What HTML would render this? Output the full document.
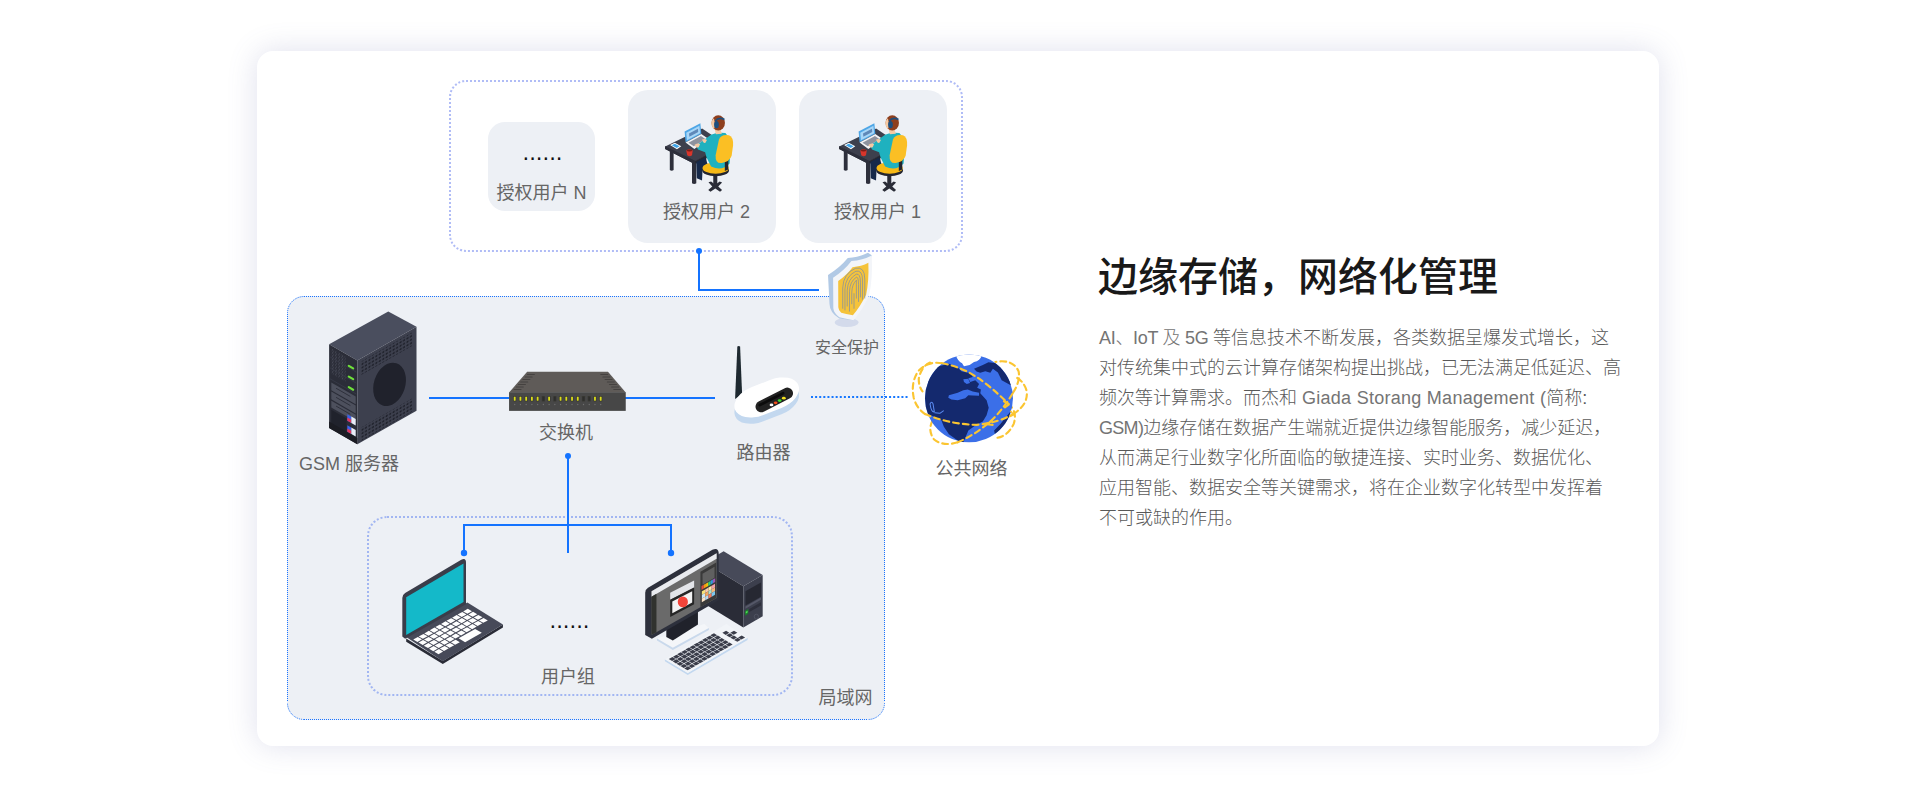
<!DOCTYPE html>
<html lang="zh-CN">
<head>
<meta charset="utf-8">
<title>边缘存储，网络化管理</title>
<style>
*{box-sizing:border-box;margin:0;padding:0}
html,body{width:1920px;height:796px;overflow:hidden;background:#fff}
body{font-family:"Liberation Sans","Noto Sans CJK SC",sans-serif;color:#666;position:relative}
.card{position:absolute;left:257px;top:51px;width:1402px;height:695px;background:#fff;border-radius:16px;box-shadow:0 0 30px rgba(95,100,165,.2)}
.abs{position:absolute}
.lbl{position:absolute;font-size:18px;line-height:20px;color:#666;white-space:nowrap;text-align:center;transform:translateX(-50%)}
.dots{color:#111;font-size:23px;letter-spacing:-.99px}
.ubox{position:absolute;background:#edf0f5;border-radius:20px}
.title{position:absolute;left:1098px;top:250px;font-size:40px;line-height:54px;color:#191919;font-weight:500;white-space:nowrap}
.body{position:absolute;left:1099px;top:323px;width:530px;font-size:18px;line-height:30px;color:#595959;font-weight:300}
.body span{display:block;white-space:nowrap}
.body i{font-style:normal;color:#747474}
svg{position:absolute;overflow:visible}
</style>
</head>
<body>
<div class="card"></div>

<div class="abs" style="left:287px;top:296px;width:598px;height:424px;background:#edf0f5;border-radius:17px"></div>
<div class="abs" style="left:449px;top:80px;width:514px;height:172px;border:2px dotted #b0bcf6;border-radius:17px"></div>
<div class="abs" style="left:367px;top:516px;width:425.5px;height:179.5px;border:2px dotted #a2b6f2;border-radius:20px"></div>
<!-- connector lines -->
<svg class="abs" style="left:0;top:0" width="1920" height="796" viewBox="0 0 1920 796">
  <g fill="none" stroke="#1a73ff" stroke-width="1" stroke-dasharray="1 1">
    <g shape-rendering="crispEdges"><path d="M304 296.5H868"/><path d="M304 719.5H868"/><path d="M287.5 314V702"/><path d="M884.5 314V702"/></g>
    <path d="M287.5 313A16.5 16.5 0 0 1 304 296.5"/><path d="M868 296.5A16.5 16.5 0 0 1 884.5 313"/>
    <path d="M884.5 703A16.5 16.5 0 0 1 868 719.5"/><path d="M304 719.5A16.5 16.5 0 0 1 287.5 703"/>
  </g>
  <!-- connectors -->
  <g fill="none" stroke="#1473ff" stroke-width="2">
    <path d="M699 251V290H819"/>
    <path d="M429 398H509"/>
    <path d="M625 398H715"/>
    <path d="M568 456V553"/>
    <path d="M464 553V525H671V553"/>
  </g>
  <path d="M811 397H908" stroke="#1677ff" stroke-width="2" stroke-dasharray="2 2.11" fill="none"/>
  <g fill="#1473ff">
    <circle cx="699" cy="251" r="3"/>
    <circle cx="568" cy="456" r="3"/>
    <circle cx="464" cy="553" r="3.2"/>
    <circle cx="671" cy="553" r="3.2"/>
  </g>
</svg>

<div class="ubox" style="left:488px;top:122px;width:107px;height:89px;border-radius:17px"></div>
<div class="ubox" style="left:628px;top:90px;width:148px;height:153px"></div>
<div class="ubox" style="left:799px;top:90px;width:148px;height:153px"></div>

<div class="lbl dots" style="left:542px;top:147px">······</div>
<div class="lbl" style="left:541.5px;top:183px">授权用户 N</div>
<div class="lbl" style="left:706.5px;top:202px">授权用户 2</div>
<div class="lbl" style="left:877.5px;top:202px">授权用户 1</div>
<div class="lbl" style="left:847px;top:338px;font-size:16px">安全保护</div>
<div class="lbl" style="left:349px;top:454px">GSM 服务器</div>
<div class="lbl" style="left:566px;top:423px">交换机</div>
<div class="lbl" style="left:763.5px;top:443px">路由器</div>
<div class="lbl" style="left:971.5px;top:459px">公共网络</div>
<div class="lbl dots" style="left:569px;top:615px">······</div>
<div class="lbl" style="left:568px;top:667px">用户组</div>
<div class="lbl" style="left:845.5px;top:688px">局域网</div>

<div class="title">边缘存储，网络化管理</div>
<div class="body">
<span><i style="letter-spacing:-.3px">AI、IoT 及 5G </i>等信息技术不断发展，各类数据呈爆发式增长，这</span>
<span>对传统集中式的云计算存储架构提出挑战，已无法满足低延迟、高</span>
<span>频次等计算需求。而杰和 <i style="letter-spacing:.27px">Giada Storang Management (</i>简称:</span>
<span><i style="letter-spacing:-.7px">GSM)</i>边缘存储在数据产生端就近提供边缘智能服务，减少延迟，</span>
<span>从而满足行业数字化所面临的敏捷连接、实时业务、数据优化、</span>
<span>应用智能、数据安全等关键需求，将在企业数字化转型中发挥着</span>
<span>不可或缺的作用。</span>
</div>

<!--PERSON-->
<svg width="0" height="0" style="position:absolute">
 <defs>
  <symbol id="person" viewBox="0 0 754 796">
   <path d="M400 430h30v60h-30z" fill="#23252f"/>
   <!-- desk top -->
   <path d="M85 347L395 197L600 335L335 476Z" fill="#3d404d"/>
   <path d="M85 345L336 470L470 400L470 424L336 496L85 368Z" fill="#262832"/>
   <path d="M85 345L336 470L336 496L85 368Z" fill="#2d2f3b"/>
   <!-- desk legs -->
   <path d="M124 380h32v165q-16 12-32 0z" fill="#2d2f3b"/>
   <path d="M310 485h36v170q-18 12-36 0z" fill="#2d2f3b"/>
   <!-- person legs -->
   <path d="M346 478L420 440L450 520L398 548L394 632L350 614Z" fill="#16294a"/>
   <!-- chair base -->
   <path d="M488 560h34v110h-34z" fill="#2a2c37"/>
   <path d="M448 648L470 640L505 668L542 640L562 650L530 682L562 712L545 726L505 700L465 726L446 712L480 682Z" fill="#2a2c37"/>
   <!-- seat -->
   <ellipse cx="508" cy="548" rx="112" ry="50" fill="#23252f"/>
   <ellipse cx="508" cy="528" rx="110" ry="48" fill="#f7b916"/>
   <!-- laptop -->
   <path d="M248 222L380 152L388 240L256 312Z" fill="#4ea6e6"/>
   <path d="M262 232L372 174L378 236L268 296Z" fill="#a8d6f7"/>
   <path d="M285 238L360 200L362 226L288 266Z" fill="#5f88b8"/>
   <path d="M256 314L388 242L446 282L330 368Z" fill="#f1f3f6"/>
   <path d="M280 316L385 260L425 286L326 346Z" fill="#8d929e"/>
   <!-- phone -->
   <path d="M126 336L166 316L220 346L184 370Z" fill="#fff"/>
   <path d="M140 337L166 324L206 346L182 360Z" fill="#3fa4e8"/>
   <!-- cup -->
   <path d="M262 382q26 -22 54 0l-6 40q-20 16 -40 0z" fill="#d8352b"/>
   <ellipse cx="289" cy="381" rx="22" ry="9" fill="#7a1d17"/>
   <!-- torso & arm -->
   <path d="M470 250Q520 225 590 235L640 300L625 490Q560 560 470 515L432 440L420 395L360 372L345 340L400 300Z" fill="#1fb1bf"/>
   <path d="M330 335q20 -22 48 -8l-12 26q-22 10 -36 -18z" fill="#f4c9a3"/>
   <path d="M395 290q22 -14 40 4l-14 24q-20 4 -26 -28z" fill="#f4c9a3"/>
   <!-- chair back -->
   <path d="M585 470L614 455L614 540L585 552Z" fill="#23252f"/>
   <path d="M536 290Q556 240 620 254Q658 268 654 340L642 425Q625 475 560 486Q503 492 508 420Z" fill="#fbbf24"/>
   <!-- head -->
   <path d="M497 190L540 175L560 240L510 245Z" fill="#f4c9a3"/>
   <ellipse cx="530" cy="150" rx="56" ry="64" fill="#8e3f1e"/>
   <path d="M472 150q4 -30 22 -40l10 60l-8 30q-20 -10 -24 -50z" fill="#f4c9a3"/>
   <path d="M505 135Q535 95 582 122" fill="none" stroke="#1d4e7e" stroke-width="14"/>
   <ellipse cx="515" cy="165" rx="20" ry="30" fill="#1d4e7e"/>
  </symbol>
 </defs>
</svg>
<svg style="left:655px;top:105px" width="90" height="95"><use href="#person"/></svg>
<svg style="left:829px;top:105px" width="90" height="95"><use href="#person"/></svg>
<!--/PERSON-->
<!--SERVER-->
<svg style="left:320px;top:305px" width="110" height="145" viewBox="0 0 604 796">
 <defs>
  <pattern id="sdots" width="19" height="19" patternUnits="userSpaceOnUse" patternTransform="translate(225 300) skewY(-29.6)">
   <rect x="3" y="3" width="11" height="11" rx="3" fill="#20222c"/>
  </pattern>
  <pattern id="svent" width="14" height="10" patternUnits="userSpaceOnUse" patternTransform="translate(50 215) skewY(30)">
   <rect x="0" y="0" width="8" height="10" fill="#15161c"/>
  </pattern>
  <pattern id="smesh" width="8" height="8" patternUnits="userSpaceOnUse" patternTransform="translate(50 215) skewY(30)">
   <rect x="0" y="0" width="4" height="4" fill="#4b4e5b"/>
  </pattern>
 </defs>
 <path d="M50 215L375 35L530 120L205 305Z" fill="#4a4e5e"/>
 <path d="M50 215L205 305L205 765L50 675Z" fill="#2b2d38"/>
 <path d="M205 305L530 120L530 580L205 765Z" fill="#3d404e"/>
 <!-- dot bands on right face -->
 <path d="M226 310L510 148L510 222L226 384Z" fill="url(#sdots)"/>
 <path d="M226 672L510 510L510 584L226 746Z" fill="url(#sdots)"/>
 <ellipse cx="382" cy="436" rx="86" ry="122" transform="rotate(18 382 436)" fill="#20222c"/>
 <!-- left face details -->
 <path d="M60 238L140 284L140 420L60 374Z" fill="url(#smesh)"/>
 <g stroke="#3a3d4a" stroke-width="4" fill="none">
  <path d="M55 285L200 369"/><path d="M55 345L200 429"/><path d="M55 405L200 489"/>
 </g>
 <g fill="#4d505d">
  <path d="M62 425L196 502L196 545L62 468Z"/>
  <path d="M62 475L196 552L196 595L62 518Z"/>
  <path d="M62 525L196 602L196 640L62 563Z"/>
 </g>
 <g stroke="#2b2d38" stroke-width="5" fill="none" stroke-linecap="round">
  <path d="M90 458L165 501"/><path d="M90 508L165 551"/><path d="M90 556L165 599"/>
 </g>
 <g stroke="#6fe23a" stroke-width="12" stroke-linecap="round">
  <path d="M158 334L182 348"/><path d="M158 393L182 407"/><path d="M158 451L182 465"/>
 </g>
 <path d="M62 575L146 623L146 700L62 652Z" fill="#20222c"/>
 <path d="M150 600L172 612L172 648L150 636Z" fill="#3b62e8"/>
 <path d="M150 618L172 630L172 648L150 636Z" fill="#e2355a"/>
 <path d="M172 612L196 626L196 662L172 648Z" fill="#e8edf7"/>
 <path d="M150 660L172 672L172 708L150 696Z" fill="#3b62e8"/>
 <path d="M150 678L172 690L172 708L150 696Z" fill="#e2355a"/>
 <path d="M172 672L196 686L196 722L172 708Z" fill="#e8edf7"/>
 <path d="M50 640L205 730L205 765L50 675Z" fill="#1b1c23"/>
 <path d="M50 642L205 732L205 765L50 675Z" fill="url(#svent)" opacity=".0"/>
</svg>
<!--/SERVER-->
<!--SWITCH-->
<svg style="left:500px;top:360px" width="140" height="90" viewBox="0 0 1238 796">
 <path d="M80 287L240 105H955L1112 287Z" fill="#5f5b58"/>
 <g stroke="#454240" stroke-width="9" stroke-linecap="round"><path d="M242 128h62" /><path d="M891 128h62" /><path d="M222 150h62" /><path d="M910 150h62" /><path d="M202 172h62" /><path d="M929 172h62" /><path d="M183 194h62" /><path d="M949 194h62" /><path d="M163 216h62" /><path d="M968 216h62" /><path d="M144 238h62" /><path d="M987 238h62" /><path d="M124 260h62" /><path d="M1006 260h62" /></g>
 <rect x="80" y="285" width="1032" height="165" fill="#474747"/>
 <rect x="116.0" y="318" width="28" height="48" rx="4" fill="#3a3a33"/><rect x="122.0" y="324" width="16" height="36" rx="3" fill="#d9dc1a"/><circle cx="130.0" cy="394" r="6" fill="#6e6e6e"/><rect x="166.7" y="318" width="28" height="48" rx="4" fill="#3a3a33"/><rect x="172.7" y="324" width="16" height="36" rx="3" fill="#d9dc1a"/><circle cx="180.7" cy="394" r="6" fill="#6e6e6e"/><rect x="217.4" y="318" width="28" height="48" rx="4" fill="#3a3a33"/><rect x="223.4" y="324" width="16" height="36" rx="3" fill="#d9dc1a"/><circle cx="231.4" cy="394" r="6" fill="#6e6e6e"/><rect x="268.1" y="318" width="28" height="48" rx="4" fill="#3a3a33"/><rect x="274.1" y="324" width="16" height="36" rx="3" fill="#d9dc1a"/><circle cx="282.1" cy="394" r="6" fill="#6e6e6e"/><rect x="318.8" y="318" width="28" height="48" rx="4" fill="#3a3a33"/><rect x="324.8" y="324" width="16" height="36" rx="3" fill="#d9dc1a"/><circle cx="332.8" cy="394" r="6" fill="#6e6e6e"/><rect x="369.5" y="318" width="28" height="48" rx="4" fill="#3a3a33"/><rect x="375.5" y="324" width="16" height="36" rx="3" fill="#2e2e2e"/><circle cx="383.5" cy="394" r="6" fill="#6e6e6e"/><rect x="420.2" y="318" width="28" height="48" rx="4" fill="#3a3a33"/><rect x="426.2" y="324" width="16" height="36" rx="3" fill="#d9dc1a"/><circle cx="434.2" cy="394" r="6" fill="#6e6e6e"/><rect x="470.9" y="318" width="28" height="48" rx="4" fill="#3a3a33"/><rect x="476.9" y="324" width="16" height="36" rx="3" fill="#2e2e2e"/><circle cx="484.9" cy="394" r="6" fill="#6e6e6e"/><rect x="521.6" y="318" width="28" height="48" rx="4" fill="#3a3a33"/><rect x="527.6" y="324" width="16" height="36" rx="3" fill="#d9dc1a"/><circle cx="535.6" cy="394" r="6" fill="#6e6e6e"/><rect x="572.3" y="318" width="28" height="48" rx="4" fill="#3a3a33"/><rect x="578.3" y="324" width="16" height="36" rx="3" fill="#d9dc1a"/><circle cx="586.3" cy="394" r="6" fill="#6e6e6e"/><rect x="623.0" y="318" width="28" height="48" rx="4" fill="#3a3a33"/><rect x="629.0" y="324" width="16" height="36" rx="3" fill="#d9dc1a"/><circle cx="637.0" cy="394" r="6" fill="#6e6e6e"/><rect x="673.7" y="318" width="28" height="48" rx="4" fill="#3a3a33"/><rect x="679.7" y="324" width="16" height="36" rx="3" fill="#d9dc1a"/><circle cx="687.7" cy="394" r="6" fill="#6e6e6e"/><rect x="724.4" y="318" width="28" height="48" rx="4" fill="#3a3a33"/><rect x="730.4" y="324" width="16" height="36" rx="3" fill="#2e2e2e"/><circle cx="738.4" cy="394" r="6" fill="#6e6e6e"/><rect x="775.1" y="318" width="28" height="48" rx="4" fill="#3a3a33"/><rect x="781.1" y="324" width="16" height="36" rx="3" fill="#2e2e2e"/><circle cx="789.1" cy="394" r="6" fill="#6e6e6e"/><rect x="825.8" y="318" width="28" height="48" rx="4" fill="#3a3a33"/><rect x="831.8" y="324" width="16" height="36" rx="3" fill="#d9dc1a"/><circle cx="839.8" cy="394" r="6" fill="#6e6e6e"/><rect x="876.5" y="318" width="28" height="48" rx="4" fill="#3a3a33"/><rect x="882.5" y="324" width="16" height="36" rx="3" fill="#d9dc1a"/><circle cx="890.5" cy="394" r="6" fill="#6e6e6e"/>
</svg>
<!--/SWITCH-->
<!--ROUTER-->
<svg style="left:720px;top:335px" width="100" height="100" viewBox="0 0 796 796">
 <path d="M138 92q10 -8 22 0L176 470L120 510Z" fill="#1e2930"/>
 <g transform="rotate(-21 370 548)"><rect x="102" y="428" width="540" height="240" rx="190" ry="120" fill="#c3d8ef"/></g>
 <g transform="rotate(-21 370 498)"><rect x="102" y="378" width="540" height="240" rx="190" ry="120" fill="#fff"/></g>
 <g transform="rotate(-27 432 517)"><rect x="270" y="472" width="324" height="90" rx="45" fill="#222"/>
 <rect x="300" y="490" width="230" height="22" rx="11" fill="#0c0c0c"/></g>
 <ellipse cx="410" cy="557" rx="15" ry="11" fill="#fff"/>
 <ellipse cx="443" cy="540" rx="15" ry="11" fill="#f4511e"/>
 <ellipse cx="475" cy="522" rx="15" ry="11" fill="#3ddc2e"/>
 <ellipse cx="508" cy="503" rx="15" ry="11" fill="#f5e21d"/>
</svg>
<!--/ROUTER-->
<!--SHIELD-->
<svg style="left:815px;top:245px" width="70" height="90" viewBox="0 0 619 796">
 <ellipse cx="280" cy="685" rx="105" ry="40" fill="#d3daeb"/>
 <path d="M115 265Q220 200 290 115Q390 110 468 68L502 90L340 665L215 650Q130 600 128 520Z" fill="#b1c9e5"/>
 <path d="M160 290Q260 225 322 142Q420 135 502 92Q512 300 478 445Q420 580 340 665Q250 650 215 640Q165 600 162 560Z" fill="#f3f5f9"/>
 <path d="M205 318Q285 262 332 196Q410 190 472 158Q478 320 452 440Q400 545 335 622Q270 612 232 600Q207 575 206 550Z" fill="#f5c33a"/>
 <g fill="none" stroke="#5b7fc4" stroke-width="5" stroke-linecap="round">
  <path d="M245 560V380Q250 250 360 205Q440 190 440 300V470"/>
  <path d="M265 575V390Q270 275 362 232Q420 220 420 310V480"/>
  <path d="M285 540V400Q290 300 365 258Q402 250 402 330V460"/>
  <path d="M305 585V410Q308 322 366 285Q385 282 385 350V500"/>
  <path d="M325 520V420Q328 345 366 312V470"/>
  <path d="M345 560V430"/>
 </g>
</svg>
<!--/SHIELD-->
<!--GLOBE-->
<svg style="left:920px;top:350px" width="100" height="100" viewBox="0 0 796 796">
 <defs><clipPath id="gclip"><circle cx="390" cy="385" r="350"/></clipPath></defs>
 <g fill="none" stroke="#fbc531" stroke-width="17" stroke-dasharray="46 32" stroke-linecap="round">
  <path d="M175 105Q60 85 -15 170Q-75 260 -50 380Q-30 460 40 510"/>
  <path d="M80 100Q10 130 -10 230Q-10 290 20 330"/>
  <path d="M700 425Q780 490 745 590Q690 700 590 700"/>
  <path d="M740 340Q800 250 785 170Q740 70 600 95"/>
  <path d="M300 735Q180 770 110 710Q60 640 100 560"/>
  <path d="M40 510Q-70 430 -95 330Q-100 250 -30 200" opacity="0"/>
  <path d="M740 510Q860 440 850 330Q830 250 760 215"/>
 </g>
 <circle cx="390" cy="385" r="350" fill="#3b6fe8"/>
 <g clip-path="url(#gclip)">
  <path fill="#14296e" d="M150 130L230 110L300 140L330 170L400 185L420 215L385 225L400 255L440 240L470 270L455 300L485 315L480 345L530 400L547 460L530 520L500 570L440 600L385 640L360 700L340 745L300 720L230 670L190 610L170 560L110 530L60 510L0 500L0 130Z"/>
  <path fill="#3b6fe8" d="M230 360L300 340L345 320L380 315L420 330L470 340L470 365L420 362L385 360L360 385L300 400L250 395L225 380Z"/>
  <path fill="#3b6fe8" d="M345 232L385 228L398 262L372 270L350 255Z"/>
  <path fill="#14296e" d="M430 150L500 120L545 98L640 110L740 220L740 290L690 262L650 240L620 180L580 150L560 182L520 170L480 182L450 172Z"/>
  <path fill="#14296e" d="M590 640L640 590L680 540L722 488L790 520L700 700L600 690Z"/>
  <path fill="#fff" d="M285 40Q390 10 490 45Q480 85 430 95L395 120L350 130L335 105Q300 90 285 40Z"/>
 </g>
 <g fill="none" stroke="#5c8cf2" stroke-width="8" stroke-linecap="round" stroke-linejoin="round"><path d="M80 430q12 -28 24 0l10 62q-24 6 -34 -62zM118 500l40 4l28 -20"/></g>
 <g fill="none" stroke="#fbc531" stroke-width="17" stroke-dasharray="46 32" stroke-linecap="round">
  <path d="M175 105Q330 135 450 215T700 425"/>
  <path d="M40 510Q230 590 450 596Q620 580 740 510"/>
  <path d="M300 735Q470 660 600 530Q690 430 740 340"/>
 </g>
 <path d="M668 408L708 432L676 456" fill="none" stroke="#fbc531" stroke-width="17" stroke-linecap="round" stroke-linejoin="round"/>
 <path d="M572 562L535 590L578 596" fill="none" stroke="#fbc531" stroke-width="17" stroke-linecap="round" stroke-linejoin="round"/>
 <path d="M722 488L745 515L715 530" fill="none" stroke="#fbc531" stroke-width="13" stroke-linecap="round" stroke-linejoin="round"/>
</svg>
<!--/GLOBE-->
<!--LAPTOP-->
<svg style="left:390px;top:540px" width="130" height="140" viewBox="0 0 739 796">
 <path d="M92 578L300 705L642 498L642 480L300 688L92 560Z" fill="#2a2c37"/>
 <path d="M92 552L440 356L642 480L300 690Z" fill="#474a59"/>
 <g fill="#fff"><path d="M132 566L158 551L182 565L156 580Z"/><path d="M163 548L190 534L214 547L187 562Z"/><path d="M195 531L221 516L245 530L219 544Z"/><path d="M226 513L253 498L277 512L250 527Z"/><path d="M258 495L284 480L308 494L282 509Z"/><path d="M290 477L316 462L340 476L314 491Z"/><path d="M321 459L348 445L372 458L345 473Z"/><path d="M353 442L379 427L403 441L377 455Z"/><path d="M384 424L411 409L435 423L408 438Z"/><path d="M416 406L442 391L466 405L440 420Z"/><path d="M162 583L188 569L212 582L186 597Z"/><path d="M193 566L220 551L244 565L217 579Z"/><path d="M225 548L251 533L275 547L249 562Z"/><path d="M256 530L283 515L307 529L280 544Z"/><path d="M288 512L314 497L338 511L312 526Z"/><path d="M320 494L346 480L370 493L344 508Z"/><path d="M351 477L378 462L402 476L375 490Z"/><path d="M383 459L409 444L433 458L407 473Z"/><path d="M414 441L441 426L465 440L438 455Z"/><path d="M446 423L472 408L496 422L470 437Z"/><path d="M192 601L218 586L242 600L216 614Z"/><path d="M223 583L250 568L274 582L247 597Z"/><path d="M255 565L281 550L305 564L279 579Z"/><path d="M286 547L313 532L337 546L310 561Z"/><path d="M318 529L344 515L368 528L342 543Z"/><path d="M350 512L376 497L400 511L374 525Z"/><path d="M381 494L408 479L432 493L405 508Z"/><path d="M413 476L439 461L463 475L437 490Z"/><path d="M444 458L471 443L495 457L468 472Z"/><path d="M476 440L502 426L526 439L500 454Z"/><path d="M222 618L248 603L272 617L246 632Z"/><path d="M253 600L280 585L304 599L277 614Z"/><path d="M285 582L311 567L335 581L309 596Z"/><path d="M316 564L343 550L367 563L340 578Z"/><path d="M348 547L374 532L398 546L372 560Z"/><path d="M380 529L406 514L430 528L404 543Z"/><path d="M411 511L438 496L462 510L435 525Z"/><path d="M443 493L469 478L493 492L467 507Z"/><path d="M474 475L501 461L525 474L498 489Z"/><path d="M506 458L532 443L556 457L530 471Z"/><path d="M252 635L278 620L302 634L276 649Z"/><path d="M283 617L310 602L334 616L307 631Z"/><path d="M315 599L341 585L365 598L339 613Z"/><path d="M346 582L373 567L397 581L370 595Z"/><path d="M390 559L484 506L522 527L427 581Z"/></g>
 <path d="M70 330Q70 312 86 302L405 112Q432 98 432 128L432 366L86 562L70 548Z" fill="#3a3d4a"/>
 <path d="M92 326L418 134L418 352L92 540Z" fill="#14b9c9"/>
</svg>
<!--/LAPTOP-->
<!--DESKTOP-->
<svg style="left:635px;top:540px" width="140" height="140" viewBox="0 0 796 796">
 <!-- tower -->
 <path d="M504 64L726 199L616 263L395 128Z" fill="#474a59"/>
 <path d="M395 128L616 263L616 497L395 363Z" fill="#2a2c37"/>
 <path d="M616 263L726 199L726 433L616 497Z" fill="#3c3f4d"/>
 <path d="M628 292L716 241L716 322L628 373Z" fill="#262832"/>
 <path d="M628 378L716 327L716 340L628 391Z" fill="#555868"/>
 <path d="M650 392L716 354L716 372L650 410Z" fill="#2d2f3b"/>
 <path d="M626 402L644 392L644 420L626 430Z" fill="#1c7d2c"/>
 <path d="M630 408L640 402L640 412L630 418Z" fill="#52e05a"/>
 <ellipse cx="690" cy="436" rx="12" ry="14" fill="none" stroke="#555868" stroke-width="4"/>
 <!-- monitor base & stand -->
 <path d="M125 560L395 478L420 500L215 612Z" fill="#f4f6f9"/>
 <path d="M125 560L215 612L420 500L420 512L215 626L125 572Z" fill="#c9d9ec"/>
 <path d="M178 505L358 405L358 480L215 572L178 552Z" fill="#20222b"/>
 <!-- monitor -->
 <path d="M58 300Q58 282 74 272L440 55Q476 40 476 78L476 342L96 562L58 540Z" fill="#2d303c"/>
 <path d="M94 292L464 76L464 330L94 540Z" fill="#6a6a6a"/>
 <path d="M94 292L464 76L464 106L94 322Z" fill="#e9ebef"/>
 <path d="M94 322L122 306L122 524L94 540Z" fill="#30322e"/>
 <path d="M372 180L462 128L462 330L372 382Z" fill="#3a3a3a"/>
 <path d="M384 192L452 152L452 214L384 254Z" fill="#606060"/>
 <path d="M378 262L391 254L391 276L378 284Z" fill="#e84c3d"/><path d="M391 254L404 247L404 269L391 276Z" fill="#f39c12"/><path d="M404 247L417 240L417 262L404 269Z" fill="#f1c40f"/><path d="M417 240L430 232L430 254L417 262Z" fill="#2ecc71"/><path d="M430 232L443 224L443 246L430 254Z" fill="#3498db"/><path d="M443 224L456 217L456 239L443 246Z" fill="#9b59b6"/>
 <path d="M380 292L399 281L399 302L380 313Z" fill="#f7e27a"/><path d="M399 281L418 270L418 291L399 302Z" fill="#f9c9b0"/><path d="M418 270L436 260L436 280L418 291Z" fill="#ffe9a8"/><path d="M436 260L455 249L455 270L436 280Z" fill="#f2a0a8"/><path d="M380 313L399 302L399 323L380 333Z" fill="#cfe9f7"/><path d="M399 302L418 291L418 312L399 323Z" fill="#f6a55c"/><path d="M418 291L436 280L436 301L418 312Z" fill="#a8e0d0"/><path d="M436 280L455 270L455 290L436 301Z" fill="#f7b77a"/><path d="M380 333L399 323L399 343L380 354Z" fill="#fbe3c8"/><path d="M399 323L418 312L418 332L399 343Z" fill="#b8d8f0"/><path d="M418 312L436 301L436 322L418 332Z" fill="#f27a5e"/><path d="M436 301L455 290L455 311L436 322Z" fill="#7cc7ee"/>
 <path d="M200 300L336 230L336 270L200 340Z" fill="#e3e5e9"/>
 <path d="M200 340L336 270L336 366L200 438Z" fill="#262626"/>
 <path d="M212 350L325 291L325 355L212 416Z" fill="#f3f3f3"/>
 <ellipse cx="272" cy="352" rx="29" ry="31" fill="#f4453a"/>
 <!-- keyboard -->
 <path d="M170 690L300 768L640 568L640 556L300 756L170 678Z" fill="#c3d8ef"/>
 <path d="M170 678L520 478L640 556L300 756Z" fill="#f1f4f8"/>
 <g fill="#3a3d4a"><path d="M192 677L213 665L232 676L211 688Z"/><path d="M216 664L236 652L255 663L234 675Z"/><path d="M239 650L260 638L279 649L258 661Z"/><path d="M263 637L284 625L302 636L281 648Z"/><path d="M286 623L307 611L326 622L305 634Z"/><path d="M310 610L331 598L349 609L329 621Z"/><path d="M333 596L354 584L373 595L352 607Z"/><path d="M357 583L378 571L397 582L376 594Z"/><path d="M381 569L401 557L420 568L399 580Z"/><path d="M404 556L425 544L444 555L423 567Z"/><path d="M428 542L449 530L467 541L446 553Z"/><path d="M214 690L235 678L254 690L233 702Z"/><path d="M238 677L258 665L277 676L256 688Z"/><path d="M261 663L282 651L301 663L280 675Z"/><path d="M285 650L306 638L324 649L303 661Z"/><path d="M308 636L329 624L348 636L327 648Z"/><path d="M332 623L353 611L371 622L351 634Z"/><path d="M355 609L376 597L395 609L374 621Z"/><path d="M379 596L400 584L419 595L398 607Z"/><path d="M403 582L423 570L442 582L421 594Z"/><path d="M426 569L447 557L466 568L445 580Z"/><path d="M450 555L471 543L489 555L468 567Z"/><path d="M497 528L518 516L536 528L516 540Z"/><path d="M236 704L257 692L276 703L255 715Z"/><path d="M260 690L280 678L299 689L278 701Z"/><path d="M283 677L304 665L323 676L302 688Z"/><path d="M307 663L328 651L346 662L325 674Z"/><path d="M330 650L351 638L370 649L349 661Z"/><path d="M354 636L375 624L393 635L373 647Z"/><path d="M377 623L398 611L417 622L396 634Z"/><path d="M401 609L422 597L441 608L420 620Z"/><path d="M425 596L445 584L464 595L443 607Z"/><path d="M448 582L469 570L488 581L467 593Z"/><path d="M472 569L493 557L511 568L490 580Z"/><path d="M519 542L540 530L558 541L538 553Z"/><path d="M542 528L563 516L582 527L561 539Z"/><path d="M258 717L279 705L298 716L277 728Z"/><path d="M282 703L302 691L321 703L300 715Z"/><path d="M305 690L326 678L345 689L324 701Z"/><path d="M329 676L350 664L368 676L347 688Z"/><path d="M352 663L373 651L392 662L371 674Z"/><path d="M376 649L397 637L415 649L395 661Z"/><path d="M399 636L420 624L439 635L418 647Z"/><path d="M423 622L444 610L463 622L442 634Z"/><path d="M447 609L467 597L486 608L465 620Z"/><path d="M470 595L491 583L510 595L489 607Z"/><path d="M494 582L515 570L533 581L512 593Z"/><path d="M541 555L562 543L580 554L560 566Z"/><path d="M280 730L301 718L320 729L299 741Z"/><path d="M304 717L324 705L343 716L322 728Z"/><path d="M327 703L348 691L367 702L346 714Z"/><path d="M351 690L372 678L390 689L369 701Z"/><path d="M374 676L395 664L414 675L393 687Z"/><path d="M398 663L419 651L437 662L417 674Z"/><path d="M421 649L442 637L461 648L440 660Z"/><path d="M445 636L466 624L485 635L464 647Z"/><path d="M469 622L489 610L508 621L487 633Z"/><path d="M492 609L513 597L532 608L511 620Z"/><path d="M516 595L537 583L555 594L534 606Z"/><path d="M563 568L584 556L602 567L582 579Z"/><path d="M586 555L607 543L626 554L605 566Z"/></g>
</svg>
<!--/DESKTOP-->
<!--ICONS-->
</body>
</html>
